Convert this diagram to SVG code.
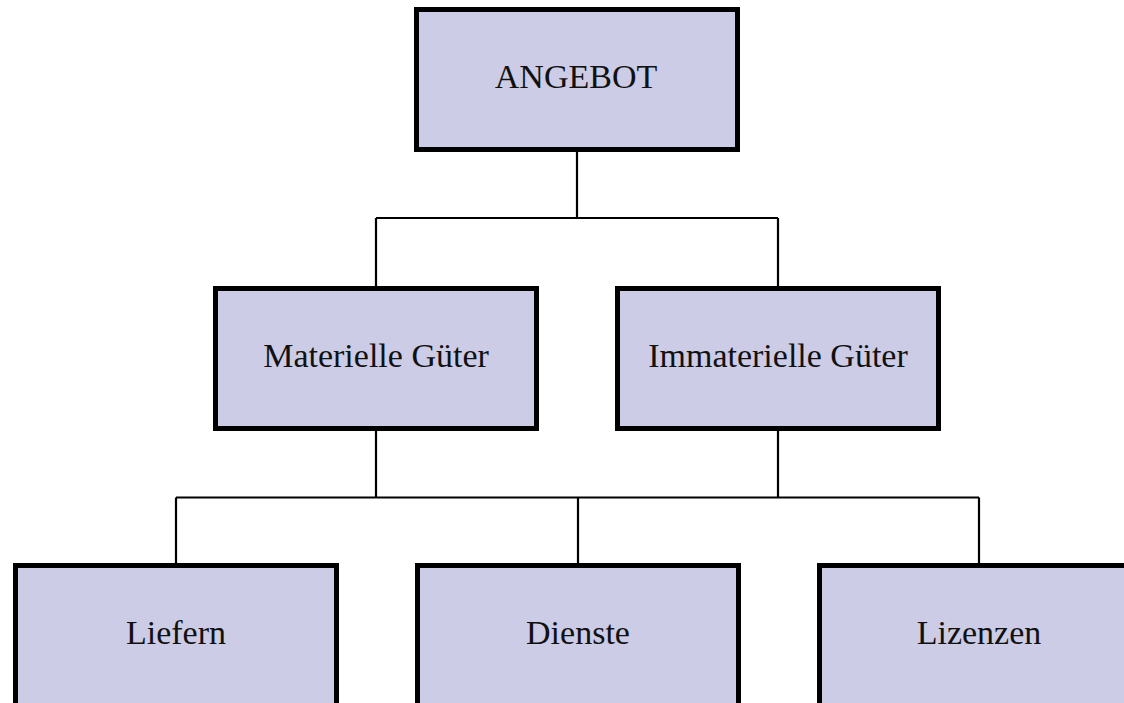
<svg xmlns="http://www.w3.org/2000/svg" width="1124" height="703" viewBox="0 0 1124 703">
<style>
.box{fill:#cccce6;stroke:#000;stroke-width:5}
.lbl{font-family:"Liberation Serif","DejaVu Serif",serif;font-size:34px;fill:#111;text-anchor:middle}
.conn{fill:none;stroke:#000;stroke-width:2.2}
</style>
<rect width="1124" height="703" fill="#fff"/>
<g id="connectors">
<path class="conn" d="M577 152V218M376 218H778M376 218V286M778 218V286"/>
<path class="conn" d="M376 429V497.5M778 429V497.5M176 497.5H979M176 497.5V563M578 497.5V563M979 497.5V563"/>
</g>
<g id="angebot"><rect class="box" x="416.5" y="9.5" width="321" height="140"/><text class="lbl" x="576" y="88">ANGEBOT</text></g>
<g id="materielle"><rect class="box" x="215.5" y="288.5" width="321" height="140"/><text class="lbl" x="376" y="367">Materielle Güter</text></g>
<g id="immaterielle"><rect class="box" x="617.5" y="288.5" width="321" height="140"/><text class="lbl" x="778" y="367">Immaterielle Güter</text></g>
<g id="liefern"><rect class="box" x="15.5" y="565.5" width="321" height="140"/><text class="lbl" x="176" y="644">Liefern</text></g>
<g id="dienste"><rect class="box" x="417.5" y="565.5" width="321" height="140"/><text class="lbl" x="578" y="644">Dienste</text></g>
<g id="lizenzen"><rect class="box" x="819.5" y="565.5" width="321" height="140"/><text class="lbl" x="979" y="644">Lizenzen</text></g>
</svg>
